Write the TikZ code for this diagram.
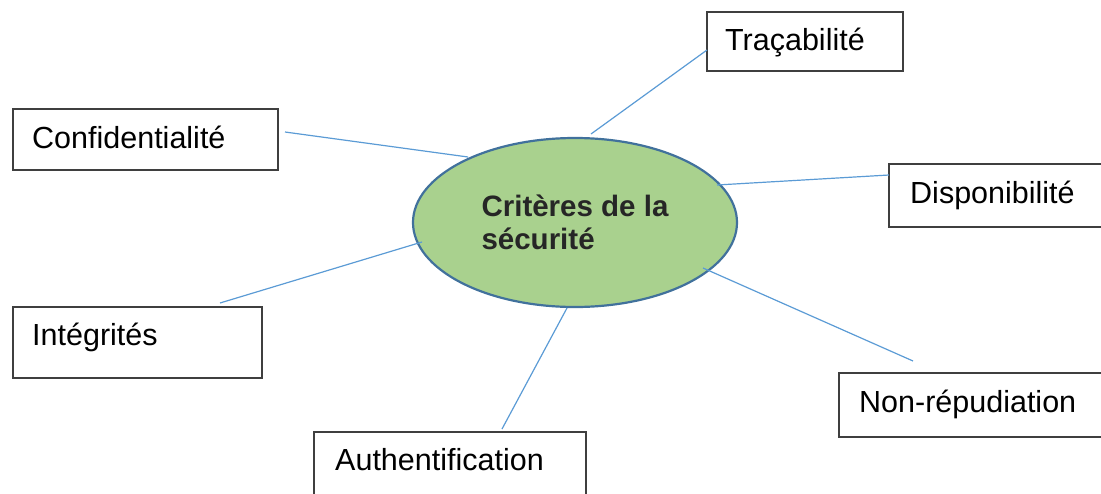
\documentclass[tikz,border=0pt]{standalone}
\usepackage{fontspec}
\setmainfont{Liberation Sans}
\usetikzlibrary{shapes.geometric}
\definecolor{leaf}{HTML}{A9D18E}
\definecolor{rim}{HTML}{41719C}
\definecolor{wire}{HTML}{5B9BD5}
\definecolor{frame}{HTML}{3F3F3F}
\definecolor{ink}{HTML}{262626}
\begin{document}
\begin{tikzpicture}[x=1pt,y=-1pt,
  critbox/.style={draw=frame, line width=1.3pt, rectangle, inner sep=0pt, outer sep=0pt, anchor=north west},
  critlabel/.style={anchor=base west, inner sep=0pt, text=black, font=\fontsize{30.5}{36}\selectfont},
  link/.style={draw=wire, line width=1.2pt}]
\useasboundingbox (0,0) rectangle (1101,493);
\clip (0,0) rectangle (1101,493);

% outer boxes
\node[critbox, minimum width=265, minimum height=61] (conf) at (13,109) {};
\node[critbox, minimum width=249, minimum height=71] (integ) at (13,307) {};
\node[critbox, minimum width=196, minimum height=59] (trac) at (707,12) {};
\node[critbox, minimum width=230, minimum height=63] (dispo) at (889,164) {};
\node[critbox, minimum width=280, minimum height=64] (nonrep) at (839,373) {};
\node[critbox, minimum width=272, minimum height=80] (auth) at (314,432) {};

% box texts
\node[critlabel] (conf-t) at (32,148) {Confidentialité};
\node[critlabel] (integ-t) at (32,345) {Intégrités};
\node[critlabel] (trac-t) at (725,50) {Traçabilité};
\node[critlabel] (dispo-t) at (910,203) {Disponibilité};
\node[critlabel] (nonrep-t) at (859,412) {Non-répudiation};
\node[critlabel] (auth-t) at (335,470) {Authentification};

% central ellipse
\node[ellipse, draw=rim, line width=2.2pt, fill=leaf, minimum width=324, minimum height=169,
      inner sep=0pt, outer sep=0pt, align=left, text=ink,
      font=\fontsize{29.5}{33}\selectfont\bfseries] (sec) at (575,222.5) {Critères de la\\sécurité};

% connector end points
\coordinate (conf-a) at (285,132);  \coordinate (conf-b) at (468,157);
\coordinate (trac-a) at (707,50);   \coordinate (trac-b) at (591,134);
\coordinate (dispo-a) at (889,175); \coordinate (dispo-b) at (717,185);
\coordinate (nonrep-a) at (913,361);\coordinate (nonrep-b) at (703,268);
\coordinate (auth-a) at (502,429);  \coordinate (auth-b) at (567,308);
\coordinate (integ-a) at (220,303); \coordinate (integ-b) at (422,242);

\draw[link] (conf-a) -- (conf-b);
\draw[link] (trac-a) -- (trac-b);
\draw[link] (dispo-a) -- (dispo-b);
\draw[link] (nonrep-a) -- (nonrep-b);
\draw[link] (auth-a) -- (auth-b);
\draw[link] (integ-a) -- (integ-b);
\end{tikzpicture}
\end{document}
